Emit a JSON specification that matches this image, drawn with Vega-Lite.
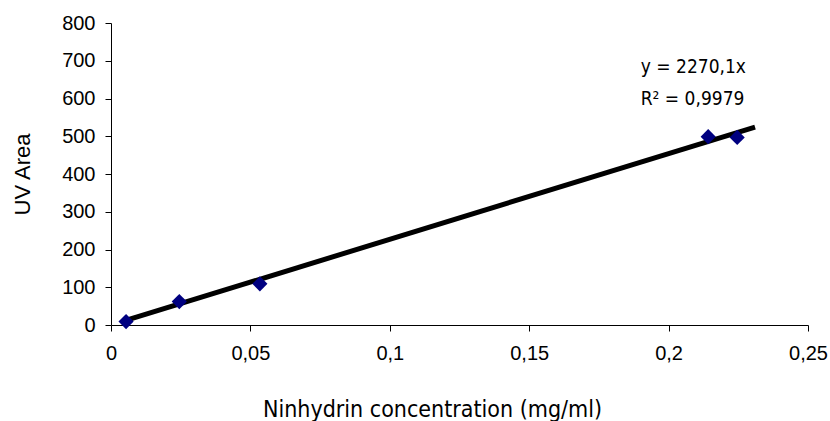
{
  "$schema": "https://vega.github.io/schema/vega-lite/v6.json",
  "width": 697,
  "height": 302,
  "autosize": "none",
  "padding": {"left": 111, "top": 23, "right": 22, "bottom": 96},
  "background": "white",
  "config": {"view": {"stroke": null}},
  "datasets": {
    "points": [
      {"conc": 0.0054, "area": 9},
      {"conc": 0.0245, "area": 62},
      {"conc": 0.0534, "area": 109},
      {"conc": 0.2142, "area": 499},
      {"conc": 0.2246, "area": 497}
    ],
    "trend": [
      {"conc": 0.005, "area": 11.35},
      {"conc": 0.231, "area": 524.4}
    ],
    "labels": [
      {"conc": 0.19, "area": 684, "text": "y = 2270,1x"},
      {"conc": 0.19, "area": 599, "text": "R² = 0,9979"}
    ]
  },
  "encoding": {
    "x": {
      "field": "conc", "type": "quantitative",
      "scale": {"domain": [0, 0.25], "nice": false},
      "axis": {
        "values": [0, 0.05, 0.1, 0.15, 0.2, 0.25],
        "labelExpr": "replace(format(datum.value, ''), '.', ',')",
        "title": "Ninhydrin concentration (mg/ml)",
        "titleFont": "DejaVu Sans Condensed",
        "titleFontSize": 23,
        "titleFontWeight": "normal",
        "titleColor": "black",
        "titleX": 321,
        "titleY": 91,
        "titleAlign": "center",
        "titleBaseline": "alphabetic",
        "labelFont": "Liberation Sans",
        "labelFontSize": 20,
        "labelColor": "black",
        "labelPadding": 12,
        "labelOverlap": false,
        "domainColor": "black",
        "tickColor": "black",
        "tickSize": 6,
        "grid": false,
        "labelFlush": false
      }
    },
    "y": {
      "field": "area", "type": "quantitative",
      "scale": {"domain": [0, 800], "nice": false},
      "axis": {
        "values": [0, 100, 200, 300, 400, 500, 600, 700, 800],
        "title": "UV Area",
        "titleFont": "Liberation Sans",
        "titleFontSize": 22,
        "titleFontWeight": "normal",
        "titleColor": "black",
        "titlePadding": 27,
        "labelFont": "Liberation Sans",
        "labelFontSize": 20,
        "labelColor": "black",
        "labelPadding": 10,
        "labelOverlap": false,
        "domainColor": "black",
        "tickColor": "black",
        "tickSize": 6,
        "grid": false,
        "labelFlush": false
      }
    }
  },
  "layer": [
    {
      "data": {"name": "trend"},
      "mark": {"type": "line", "color": "black", "strokeWidth": 5, "clip": true}
    },
    {
      "data": {"name": "points"},
      "mark": {"type": "point", "shape": "diamond", "filled": true, "color": "#000080", "size": 230, "opacity": 1}
    },
    {
      "data": {"name": "labels"},
      "mark": {"type": "text", "align": "left", "baseline": "middle", "font": "DejaVu Sans Condensed", "fontSize": 19, "color": "black"},
      "encoding": {
        "text": {"field": "text"}
      }
    }
  ]
}
